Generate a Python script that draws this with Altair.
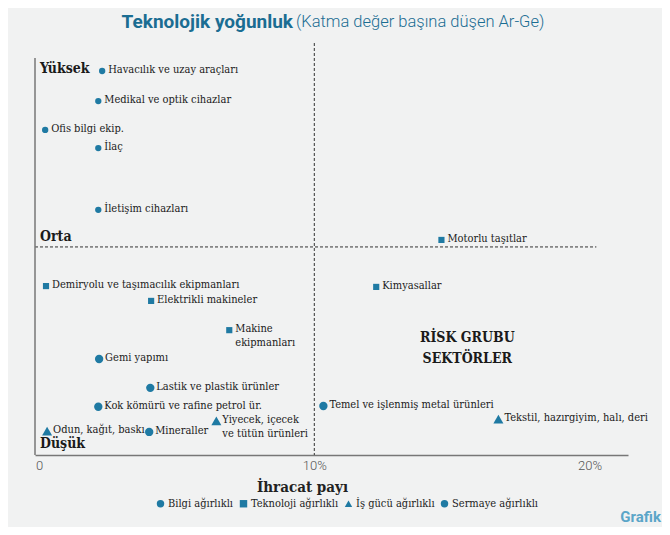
import altair as alt
import pandas as pd

# ---- data ----
sectors = [
    "Havacılık ve uzay araçları", "Medikal ve optik cihazlar", "Ofis bilgi ekip.", "İlaç",
    "İletişim cihazları", "Motorlu taşıtlar", "Demiryolu ve taşımacılık ekipmanları",
    "Elektrikli makineler", "Kimyasallar", "Makine\nekipmanları", "Gemi yapımı",
    "Lastik ve plastik ürünler", "Kok kömürü ve rafine petrol ür.",
    "Temel ve işlenmiş metal ürünleri", "Tekstil, hazırgiyim, halı, deri",
    "Yiyecek, içecek\nve tütün ürünleri", "Odun, kağıt, baskı", "Mineraller",
]
export_share = [2.29, 2.15, 0.22, 2.15, 2.15, 14.62, 0.25, 4.07, 12.25, 6.91,
                2.18, 4.04, 2.15, 10.33, 16.69, 6.44, 0.29, 4.0]
tech_intensity = [93.2, 85.9, 78.9, 74.5, 59.5, 52.2, 41.0, 37.4, 40.8, 30.3,
                  23.3, 16.3, 11.7, 11.9, 8.7, 8.3, 5.8, 5.6]
groups = (["Bilgi ağırlıklı"] * 5 + ["Teknoloji ağırlıklı"] * 5 +
          ["Sermaye ağırlıklı"] * 4 + ["İş gücü ağırlıklı"] * 3 + ["Sermaye ağırlıklı"])

group_order = ["Bilgi ağırlıklı", "Teknoloji ağırlıklı", "İş gücü ağırlıklı", "Sermaye ağırlıklı"]
group_shapes = ["circle", "square", "triangle-up", "circle"]

x_threshold = [10]
y_threshold = [50.5]
y_threshold_start = [-0.15]
y_threshold_end = [20.25]

levels = ["Yüksek", "Orta", "Düşük"]
level_y = [93.6, 52.8, 2.7]

risk_text = ["RİSK GRUBU\nSEKTÖRLER"]
risk_x = [15.56]
risk_y = [28.4]

tick_values = [0, 10, 20]

# marker style per group (style only, not data)
MARKER_SIZE = {"Bilgi ağırlıklı": 40, "Teknoloji ağırlıklı": 38,
               "İş gücü ağırlıklı": 100, "Sermaye ağırlıklı": 70}

BLUE = "#1f7aa3"
SERIF = "DejaVu Serif Condensed, DejaVu Serif"

W, H = 593, 412

df = pd.DataFrame({"sector": sectors, "x": export_share, "y": tech_intensity, "group": groups})
df["msize"] = df["group"].map(MARKER_SIZE)

xscale = alt.Scale(domain=[-0.15, 21.4], nice=False, zero=False)
yscale = alt.Scale(domain=[0, 100], nice=False, zero=False)

xaxis = alt.Axis(values=tick_values, grid=False, ticks=False,
                 labelExpr="datum.value == 0 ? '0' : datum.value + '%'",
                 labelFont="Roboto", labelFontWeight=300, labelFontSize=13, labelColor="#555",
                 labelPadding=4, domainColor="#777", domainWidth=1.5,
                 title="İhracat payı", titleFont=SERIF, titleFontSize=15, titleFontWeight="bold",
                 titleColor="#222", titleX=267, titleY=31, titleBaseline="middle", titleAlign="center")

vline = alt.Chart(pd.DataFrame({"x": x_threshold})).mark_rule(
    color="#333", strokeDash=[3, 2], strokeWidth=1).encode(
    x=alt.X("x:Q", scale=xscale, axis=xaxis))

hline = alt.Chart(pd.DataFrame({"y": y_threshold, "x1": y_threshold_start, "x2": y_threshold_end})).mark_rule(
    color="#333", strokeDash=[3, 2], strokeWidth=1).encode(
    y=alt.Y("y:Q", scale=yscale, axis=None), x=alt.X("x1:Q", scale=xscale), x2=alt.X2("x2"))

yaxis_line = alt.Chart(pd.DataFrame({"a": [0]})).mark_rule(color="#777", strokeWidth=1.5).encode(
    x=alt.value(0), y=alt.value(15), y2=alt.value(H))

points = alt.Chart(df).mark_point(filled=True, opacity=1, color=BLUE).encode(
    x=alt.X("x:Q", scale=xscale, axis=xaxis),
    y=alt.Y("y:Q", scale=yscale, axis=None),
    shape=alt.Shape("group:N", scale=alt.Scale(domain=group_order, range=group_shapes),
                    legend=alt.Legend(title=None, orient="none", legendX=120, legendY=455,
                                      direction="horizontal", columns=4,
                                      labelFont=SERIF, labelFontSize=11, labelColor="#222",
                                      symbolFillColor=BLUE, symbolStrokeWidth=0, symbolSize=55,
                                      columnPadding=4, labelOffset=2)),
    size=alt.Size("msize:Q", scale=None, legend=None),
)

labels = alt.Chart(df).mark_text(align="left", baseline="top", dx=6, dy=-7, lineBreak="\n",
                                 font=SERIF, fontSize=11, lineHeight=14, color="#1a1a1a").encode(
    x=alt.X("x:Q", scale=xscale), y=alt.Y("y:Q", scale=yscale), text="sector:N")

level_labels = alt.Chart(pd.DataFrame({"lvl": levels, "y": level_y})).mark_text(
    align="left", baseline="middle", font=SERIF, fontSize=14, fontWeight="bold", color="#1a1a1a").encode(
    x=alt.value(5), y=alt.Y("y:Q", scale=yscale), text="lvl:N")

risk = alt.Chart(pd.DataFrame({"x": risk_x, "y": risk_y, "t": risk_text})).mark_text(
    align="center", baseline="middle", font=SERIF, fontSize=14, fontWeight="bold",
    lineHeight=21, lineBreak="\n", color="#1a1a1a").encode(
    x=alt.X("x:Q", scale=xscale), y=alt.Y("y:Q", scale=yscale), text="t:N")

title_bold = alt.Chart(pd.DataFrame({"t": ["Teknolojik yoğunluk"]})).mark_text(
    align="right", baseline="middle", font="Roboto", fontSize=19, fontWeight="bold",
    color="#1b6d92").encode(x=alt.value(258), y=alt.value(-21), text="t:N")

title_light = alt.Chart(pd.DataFrame({"t": ["(Katma değer başına düşen Ar-Ge)"]})).mark_text(
    align="left", baseline="middle", font="Roboto", fontSize=16.5, fontWeight=300,
    color="#1b6d92").encode(x=alt.value(261), y=alt.value(-21), text="t:N")

source = alt.Chart(pd.DataFrame({"t": ["Grafik"]})).mark_text(
    align="right", baseline="middle", font="Roboto", fontSize=15, fontWeight="bold",
    color="#5aa5c8").encode(x=alt.value(626), y=alt.value(474), text="t:N")

chart = alt.layer(vline, hline, yaxis_line, points, labels, level_labels, risk,
                  title_bold, title_light, source).properties(
    width=W, height=H,
    autosize=alt.AutoSizeParams(type="none"),
    padding={"left": 27, "top": 35, "right": 34, "bottom": 72},
    background="#f1f2f2",
).configure_view(stroke=None)

chart.save("out.html", embed_options={"renderer": "svg", "actions": False})
